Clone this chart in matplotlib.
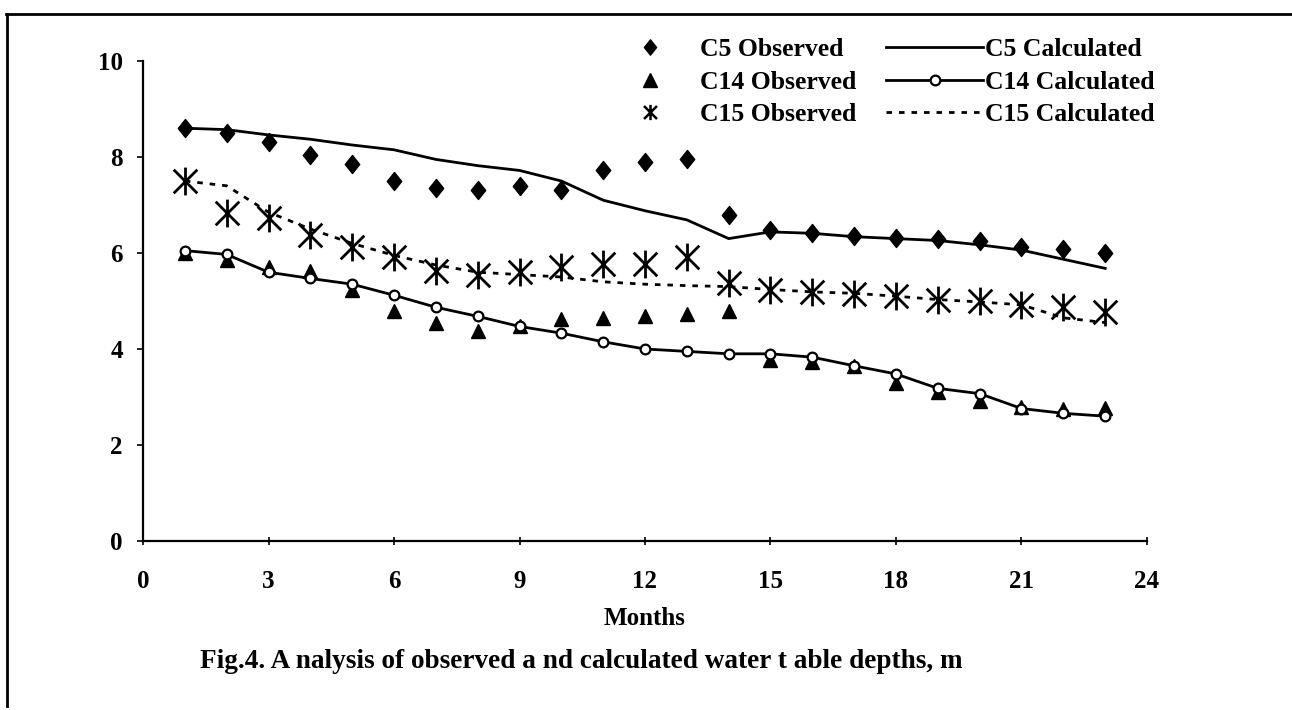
import matplotlib
matplotlib.use("Agg")
import matplotlib.pyplot as plt
from matplotlib.path import Path
from matplotlib.lines import Line2D

months = list(range(1, 24))

c5_observed = [8.60, 8.50, 8.32, 8.04, 7.85, 7.50, 7.35, 7.32, 7.40, 7.32, 7.73, 7.90,
               7.95, 6.80, 6.48, 6.42, 6.35, 6.32, 6.29, 6.24, 6.13, 6.08, 6.01]
c5_calculated = [8.60, 8.57, 8.46, 8.37, 8.25, 8.15, 7.95, 7.82, 7.72, 7.50, 7.10, 6.88,
                 6.69, 6.30, 6.44, 6.41, 6.34, 6.30, 6.26, 6.17, 6.06, 5.87, 5.68]
c14_observed = [6.00, 5.85, 5.70, 5.62, 5.22, 4.80, 4.55, 4.38, 4.47, 4.62, 4.65, 4.68,
                4.72, 4.80, 3.78, 3.72, 3.65, 3.30, 3.10, 2.92, 2.80, 2.74, 2.78]
c14_calculated = [6.05, 5.97, 5.60, 5.47, 5.35, 5.12, 4.87, 4.68, 4.47, 4.33, 4.15, 4.00,
                  3.95, 3.90, 3.90, 3.83, 3.65, 3.48, 3.18, 3.07, 2.76, 2.66, 2.60]
c15_observed = [7.50, 6.83, 6.72, 6.37, 6.13, 5.92, 5.62, 5.54, 5.60, 5.71, 5.77, 5.78,
                5.92, 5.37, 5.23, 5.19, 5.15, 5.10, 5.03, 4.99, 4.92, 4.88, 4.78]
c15_calculated = [7.50, 7.40, 6.85, 6.50, 6.20, 5.95, 5.75, 5.60, 5.55, 5.50, 5.40, 5.35,
                  5.32, 5.30, 5.24, 5.19, 5.16, 5.10, 5.03, 4.98, 4.92, 4.65, 4.55]

x_ticks = [0, 3, 6, 9, 12, 15, 18, 21, 24]
y_ticks = [0, 2, 4, 6, 8, 10]

FONT = "Liberation Serif"
plt.rcParams["font.family"] = [FONT, "DejaVu Serif"]
plt.rcParams["font.weight"] = "bold"

fig = plt.figure(figsize=(12.92, 7.10), dpi=100)
ax = fig.add_axes([143 / 1292, 1 - 541 / 710, 1004 / 1292, 480 / 710])

star = Path([(0, -1), (0, 1), (-0.85, -0.85), (0.85, 0.85), (-0.85, 0.85), (0.85, -0.85)],
            [Path.MOVETO, Path.LINETO, Path.MOVETO, Path.LINETO, Path.MOVETO, Path.LINETO])
diamond = Path([(0, 1), (0.8, 0), (0, -1), (-0.8, 0), (0, 1)],
               [Path.MOVETO, Path.LINETO, Path.LINETO, Path.LINETO, Path.CLOSEPOLY])

h1, = ax.plot(months, c5_observed, linestyle="none", marker=diamond, ms=13, color="black",
              label="C5 Observed")
h2, = ax.plot(months, c14_observed, linestyle="none", marker="^", ms=10, color="black",
              label="C14 Observed")
h3, = ax.plot(months, c15_observed, linestyle="none", marker=star, ms=20, mew=2.0,
              color="black", label="C15 Observed")
h4, = ax.plot(months, c5_calculated, color="black", lw=2.0, label="C5 Calculated")
h5, = ax.plot(months, c14_calculated, color="black", lw=2.0, marker="o", ms=7,
              mfc="white", mec="black", mew=1.6, label="C14 Calculated")
h6, = ax.plot(months, c15_calculated, color="black", lw=2.0, linestyle=(0, (2, 2.5)),
              label="C15 Calculated")

ax.set_xlim(0, 24)
ax.set_ylim(0, 10)
ax.set_xticks(x_ticks)
ax.set_yticks(y_ticks)
ax.spines["top"].set_visible(False)
ax.spines["right"].set_visible(False)
ax.spines["left"].set_linewidth(1.6)
ax.spines["bottom"].set_linewidth(1.6)
ax.tick_params(axis="y", direction="out", length=4, width=1.2, pad=10.5, labelsize=18)
ax.tick_params(axis="x", direction="inout", length=6, width=1.2, pad=18, labelsize=18)
for lab in ax.get_xticklabels() + ax.get_yticklabels():
    lab.set_fontweight("bold")

ax.set_xlabel("Months", fontsize=18, fontweight="bold", labelpad=10)

leg = fig.legend(handles=[h1, h2, h3, h4, h5, h6], ncol=2, loc="upper left",
                 bbox_to_anchor=(589 / 1292, 1 - 25 / 710), frameon=False,
                 handlelength=3.77, handletextpad=0.05, columnspacing=1.17,
                 labelspacing=0.38, borderpad=0, numpoints=1,
                 prop={"family": FONT, "weight": "bold", "size": 18.5})
leg.legend_handles[0].set_markersize(11)
leg.legend_handles[2].set_markersize(11)
leg.legend_handles[2].set_markeredgewidth(1.8)

fig.text(200 / 1292, 1 - 662 / 710,
         "Fig.4. A nalysis of observed a nd calculated water t able depths, m",
         fontsize=19.6, fontweight="bold", ha="left", va="center")

# outer frame of the figure panel
fig.add_artist(Line2D([6 / 1292, 1], [1 - 14 / 710, 1 - 14 / 710], color="black",
                      lw=2, transform=fig.transFigure))
fig.add_artist(Line2D([7 / 1292, 7 / 1292], [1 - 14 / 710, 1 - 706 / 710], color="black",
                      lw=2, transform=fig.transFigure))

fig.savefig("out.png", dpi=100, facecolor="white")
